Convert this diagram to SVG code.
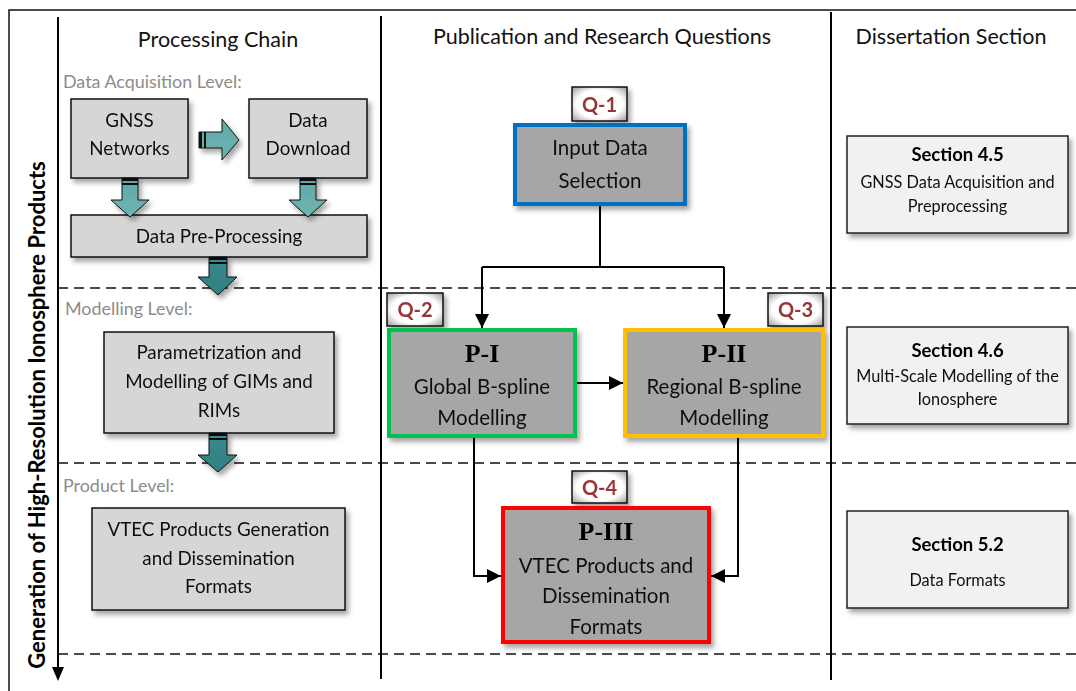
<svg xmlns="http://www.w3.org/2000/svg" width="1076" height="691" viewBox="0 0 1076 691">
<defs>
  <filter id="sh" x="-10%" y="-10%" width="130%" height="140%">
    <feDropShadow dx="3" dy="4" stdDeviation="2.5" flood-color="#000" flood-opacity="0.35"/>
  </filter>
  <filter id="lsh" x="-5%" y="-50%" width="110%" height="300%">
    <feDropShadow dx="0" dy="3" stdDeviation="1.5" flood-color="#000" flood-opacity="0.2"/>
  </filter>
  <linearGradient id="teal1" x1="0" y1="0" x2="0" y2="1">
    <stop offset="0" stop-color="#5ea9a8"/>
    <stop offset="1" stop-color="#6fb3b2"/>
  </linearGradient>
  <linearGradient id="teal2" x1="0" y1="0" x2="0" y2="1">
    <stop offset="0" stop-color="#3a8a8d"/>
    <stop offset="1" stop-color="#2f7f83"/>
  </linearGradient>
  <radialGradient id="qfill" cx="0.5" cy="0.5" r="0.7">
    <stop offset="0.6" stop-color="#ffffff"/>
    <stop offset="1" stop-color="#9a9a9a"/>
  </radialGradient>
  <marker id="ah" viewBox="0 0 10 10" refX="10" refY="5" markerWidth="14" markerHeight="14" markerUnits="userSpaceOnUse" orient="auto">
    <path d="M0,0 L10,5 L0,10 z" fill="#000"/>
  </marker>
  <style>
    text { font-family: Lato, "Open Sans", "Liberation Sans", sans-serif; }
    .hdr { font-size: 21.5px; fill: #111; text-anchor: middle; }
    .lvl { font-size: 17.9px; fill: #8c8c8c; }
    .lb { fill: #d6d6d6; stroke: #111; stroke-width: 1.5; }
    .lt { font-size: 18.8px; fill: #111; text-anchor: middle; }
    .mb { fill: #a6a6a6; stroke-width: 4; }
    .mt { font-size: 20.5px; fill: #111; text-anchor: middle; }
    .pt { font-family: "Liberation Serif", "Times New Roman", serif; font-weight: bold; font-size: 26px; fill: #000; text-anchor: middle; }
    .q { fill: url(#qfill); stroke: #111; stroke-width: 1.5; }
    .qt { font-size: 20px; font-weight: bold; fill: #953735; text-anchor: middle; }
    .rb { fill: #f1f1f1; stroke: #222; stroke-width: 1.5; }
    .rt { font-size: 16.3px; fill: #111; text-anchor: middle; }
    .rh { font-size: 18.5px; font-weight: bold; fill: #000; text-anchor: middle; }
    .dash { stroke: #111; stroke-width: 1.5; stroke-dasharray: 10 6; fill: none; }
    .ta1 { fill: url(#teal1); stroke: #111; stroke-width: 1; }
    .ta2 { fill: url(#teal2); stroke: #111; stroke-width: 1; }
    .con { stroke: #000; stroke-width: 2; fill: none; }
  </style>
</defs>
<rect width="1076" height="691" fill="#fff"/>

<!-- frame and grid -->
<g id="grid">
  <rect x="9" y="10" width="1100" height="700" fill="none" stroke="#111" stroke-width="1.5"/>
  <line x1="20" y1="63" x2="1076" y2="63" stroke="#333" stroke-width="1.5" filter="url(#lsh)"/>
  <line class="dash" x1="58" y1="288" x2="1076" y2="288"/>
  <line class="dash" x1="58" y1="463" x2="1076" y2="463"/>
  <line class="dash" x1="58" y1="654" x2="1076" y2="654"/>
  <line x1="58" y1="17" x2="58" y2="668" stroke="#000" stroke-width="2"/>
  <path d="M52,667 L64,667 L58,681 z" fill="#000"/>
  <line x1="381" y1="16" x2="381" y2="679" stroke="#000" stroke-width="2"/>
  <line x1="831" y1="12" x2="831" y2="680" stroke="#000" stroke-width="2"/>
  <text class="hdr" x="218" y="47">Processing Chain</text>
  <text class="hdr" x="602" y="44">Publication and Research Questions</text>
  <text class="hdr" x="951" y="44">Dissertation Section</text>
  <text transform="translate(45,415) rotate(-90)" text-anchor="middle" font-size="22" font-weight="bold" fill="#000">Generation of High-Resolution Ionosphere Products</text>
  <text class="lvl" x="63" y="88">Data Acquisition Level:</text>
  <text class="lvl" x="65" y="315">Modelling Level:</text>
  <text class="lvl" x="63" y="492">Product Level:</text>
</g>

<!-- left column nodes -->
<g id="gnss" filter="url(#sh)">
  <rect class="lb" x="71" y="99" width="117" height="79"/>
  <text class="lt" x="129.5" y="127">GNSS</text>
  <text class="lt" x="129.5" y="155">Networks</text>
</g>
<g id="download" filter="url(#sh)">
  <rect class="lb" x="249" y="99" width="118" height="79"/>
  <text class="lt" x="308" y="127">Data</text>
  <text class="lt" x="308" y="155">Download</text>
</g>
<g id="preproc" filter="url(#sh)">
  <rect class="lb" x="71" y="215" width="296" height="42"/>
  <text class="lt" x="219" y="243">Data Pre-Processing</text>
</g>
<g id="param" filter="url(#sh)">
  <rect class="lb" x="104" y="332" width="230" height="101"/>
  <text class="lt" x="219" y="359">Parametrization and</text>
  <text class="lt" x="219" y="388">Modelling of GIMs and</text>
  <text class="lt" x="219" y="417">RIMs</text>
</g>
<g id="vtecgen" filter="url(#sh)">
  <rect class="lb" x="92" y="508" width="253" height="102"/>
  <text class="lt" x="218.5" y="536">VTEC Products Generation</text>
  <text class="lt" x="218.5" y="565">and Dissemination</text>
  <text class="lt" x="218.5" y="593">Formats</text>
</g>

<!-- middle column nodes -->
<g id="q1" filter="url(#sh)">
  <rect class="q" x="572" y="87" width="55" height="34"/>
  <text class="qt" x="599.5" y="112">Q-1</text>
</g>
<g id="input" filter="url(#sh)">
  <rect class="mb" x="515" y="125" width="170" height="79" stroke="#0070c0"/>
  <text class="mt" x="600" y="155">Input Data</text>
  <text class="mt" x="600" y="188">Selection</text>
</g>
<g id="q2" filter="url(#sh)">
  <rect class="q" x="387" y="293" width="56" height="33"/>
  <text class="qt" x="415" y="317">Q-2</text>
</g>
<g id="p1" filter="url(#sh)">
  <rect class="mb" x="389" y="330" width="186" height="106" stroke="#00c050"/>
  <text class="pt" x="482" y="362">P-I</text>
  <text class="mt" x="482" y="394">Global B-spline</text>
  <text class="mt" x="482" y="425">Modelling</text>
</g>
<g id="q3" filter="url(#sh)">
  <rect class="q" x="768" y="293" width="55" height="33"/>
  <text class="qt" x="795.5" y="317">Q-3</text>
</g>
<g id="p2" filter="url(#sh)">
  <rect class="mb" x="625" y="330" width="198" height="106" stroke="#ffc000"/>
  <text class="pt" x="724" y="362">P-II</text>
  <text class="mt" x="724" y="394">Regional B-spline</text>
  <text class="mt" x="724" y="425">Modelling</text>
</g>
<g id="q4" filter="url(#sh)">
  <rect class="q" x="572" y="471" width="55" height="32"/>
  <text class="qt" x="599.5" y="495">Q-4</text>
</g>
<g id="p3" filter="url(#sh)">
  <rect class="mb" x="503" y="508" width="206" height="134" stroke="#ff0000"/>
  <text class="pt" x="606" y="540">P-III</text>
  <text class="mt" x="606" y="573">VTEC Products and</text>
  <text class="mt" x="606" y="603">Dissemination</text>
  <text class="mt" x="606" y="634">Formats</text>
</g>

<!-- right column nodes -->
<g id="s45" filter="url(#sh)">
  <rect class="rb" x="847" y="136" width="221" height="97"/>
  <text class="rh" x="957.5" y="161">Section 4.5</text>
  <text class="rt" x="957.5" y="188">GNSS Data Acquisition and</text>
  <text class="rt" x="957.5" y="212">Preprocessing</text>
</g>
<g id="s46" filter="url(#sh)">
  <rect class="rb" x="847" y="327" width="221" height="97"/>
  <text class="rh" x="957.5" y="357">Section 4.6</text>
  <text class="rt" x="957.5" y="382">Multi-Scale Modelling of the</text>
  <text class="rt" x="957.5" y="405">Ionosphere</text>
</g>
<g id="s52" filter="url(#sh)">
  <rect class="rb" x="847" y="511" width="221" height="97"/>
  <text class="rh" x="957.5" y="551">Section 5.2</text>
  <text class="rt" x="957.5" y="586">Data Formats</text>
</g>

<!-- connectors -->
<g id="connectors">
  <!-- block arrows -->
  <g filter="url(#sh)">
    <path class="ta1" d="M199,132 L222,132 L222,119 L239,140 L222,160 L222,148 L199,148 z"/>
    <rect x="199" y="132" width="3" height="16" fill="#111"/>
    <rect x="204" y="132" width="2" height="16" fill="#111"/>
    <path class="ta1" d="M122,178 L138,178 L138,200 L149,200 L130,217 L111,200 L122,200 z"/>
    <rect x="122" y="178" width="16" height="3" fill="#111"/>
    <rect x="122" y="183" width="16" height="2" fill="#111"/>
    <path class="ta1" d="M300,178 L316,178 L316,200 L327,200 L308,217 L289,200 L300,200 z"/>
    <rect x="300" y="178" width="16" height="3" fill="#111"/>
    <rect x="300" y="183" width="16" height="2" fill="#111"/>
    <path class="ta2" d="M209,257 L227,257 L227,277 L237,277 L218,295 L198,277 L209,277 z"/>
    <rect x="209" y="257" width="18" height="3" fill="#111"/>
    <rect x="209" y="262" width="18" height="2" fill="#111"/>
    <path class="ta2" d="M209,433 L227,433 L227,455 L237,455 L218,472 L198,455 L209,455 z"/>
    <rect x="209" y="433" width="18" height="3" fill="#111"/>
    <rect x="209" y="438" width="18" height="2" fill="#111"/>
  </g>
  <!-- line connectors -->
  <polyline class="con" points="600,206 600,267"/>
  <polyline class="con" points="482,267 724,267"/>
  <polyline class="con" points="482,267 482,328" marker-end="url(#ah)"/>
  <polyline class="con" points="724,267 724,328" marker-end="url(#ah)"/>
  <polyline class="con" points="577,383 623,383" marker-end="url(#ah)"/>
  <polyline class="con" points="474,438 474,576 501,576" marker-end="url(#ah)"/>
  <polyline class="con" points="738,438 738,576 711,576" marker-end="url(#ah)"/>
</g>
</svg>
